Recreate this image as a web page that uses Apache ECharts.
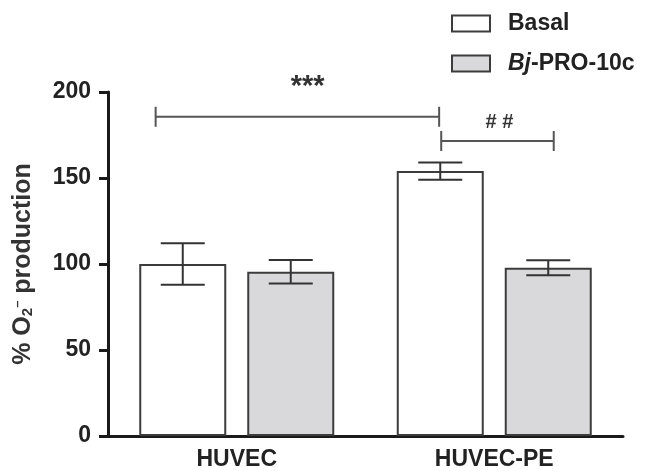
<!DOCTYPE html>
<html>
<head>
<meta charset="utf-8">
<script src="https://cdn.jsdelivr.net/npm/echarts@6/dist/echarts.min.js"></script>
<style>html,body{margin:0;padding:0;background:#fff}#c{width:645px;height:471px}</style>
</head>
<body>
<div id="c"></div>
<script>
// ---- data ----
var categories = ['HUVEC', 'HUVEC-PE'];
var seriesNames = ['Basal', 'Bj-PRO-10c'];
var basalMean = [100, 154];
var basalErr = [12, 5];
var bjMean = [95.5, 97.8];
var bjErr = [6.8, 4.4];
var yTicks = [0, 50, 100, 150, 200];
// significance brackets (x in category units on a 0..2 scale, y in data units)
var bracketStart = [0.185, 1.294];
var bracketEnd = [1.286, 1.731];
var bracketY = [185.6, 171.5];
var bracketLabel = ['***', '# #'];
var bracketLabelX = [0.775, 1.52];
var bracketLabelY = [203, 182.5];

// ---- styles ----
var BAR_W = 87, BAR_GAP_PX = 21, CAP_W = 44;
var font = 'Liberation Sans, Arial, Helvetica, sans-serif';

function errData(means, errs) {
  return means.map(function (m, i) { return [i, m, errs[i]]; });
}
function errRender(sign) {
  return function (params, api) {
    var i = api.value(0), m = api.value(1), e = api.value(2);
    var off = sign * (BAR_W + BAR_GAP_PX) / 2;
    var top = api.coord([i, m + e]);
    var bot = api.coord([i, m - e]);
    var x = top[0] + off;
    var st = { stroke: '#333', lineWidth: 2 };
    return { type: 'group', children: [
      { type: 'line', shape: { x1: x, y1: top[1], x2: x, y2: bot[1] }, style: st },
      { type: 'line', shape: { x1: x - CAP_W / 2, y1: top[1], x2: x + CAP_W / 2, y2: top[1] }, style: st },
      { type: 'line', shape: { x1: x - CAP_W / 2, y1: bot[1], x2: x + CAP_W / 2, y2: bot[1] }, style: st }
    ]};
  };
}
var bracketData = bracketStart.map(function (s, i) {
  return [s, bracketEnd[i], bracketY[i], bracketLabelX[i], bracketLabelY[i], i];
});

var chart = echarts.init(document.getElementById('c'), null, { renderer: 'canvas' });
chart.setOption({
  animation: false,
  backgroundColor: '#fff',
  textStyle: { fontFamily: font },
  grid: { left: 102, right: 22, top: 92, bottom: 35, containLabel: false },
  legend: {
    data: seriesNames,
    orient: 'vertical',
    left: 446,
    top: 7,
    itemWidth: 38,
    itemHeight: 16,
    itemGap: 17,
    icon: 'rect',
    itemStyle: { borderWidth: 2, borderColor: '#3c3c3c' },
    formatter: function (n) {
      if (n === 'Bj-PRO-10c') return '{i|Bj}{b|-PRO-10c}';
      return '{b|' + n + '}';
    },
    textStyle: {
      padding: [0, 0, 0, 13],
      rich: {
        b: { fontSize: 23, fontWeight: 'bold', color: '#222', fontFamily: font, lineHeight: 26 },
        i: { fontSize: 23, fontWeight: 'bold', fontStyle: 'italic', color: '#222', fontFamily: font, lineHeight: 26 }
      }
    }
  },
  xAxis: [{
    type: 'category',
    data: categories,
    axisLine: { show: true, lineStyle: { color: '#1a1a1a', width: 3 } },
    axisTick: { show: false },
    axisLabel: { fontSize: 23, fontWeight: 'bold', color: '#222', margin: 12, fontFamily: font },
    splitLine: { show: false }
  }, {
    type: 'value', min: 0, max: 2, show: false
  }],
  yAxis: [{
    type: 'value',
    min: yTicks[0],
    max: yTicks[yTicks.length - 1],
    interval: yTicks[1] - yTicks[0],
    axisLine: { show: true, lineStyle: { color: '#1a1a1a', width: 3 } },
    axisTick: { show: true, length: 9, lineStyle: { color: '#1a1a1a', width: 3 } },
    axisLabel: { fontSize: 23, fontWeight: 'bold', color: '#222', margin: 17, fontFamily: font },
    splitLine: { show: false },
    name: '{a|% O}{sub|2}{sup|\u2013}{a| production}',
    nameLocation: 'middle',
    nameGap: 70,
    nameRotate: 90,
    nameTextStyle: {
      rich: {
        a: { fontSize: 25, color: '#333', fontFamily: font, lineHeight: 30, fontWeight: 'bold' },
        sub: { fontSize: 15, color: '#333', fontFamily: font, lineHeight: 15, verticalAlign: 'bottom', fontWeight: 'bold', padding: [0, 0, 3, 0] },
        sup: { fontSize: 13, color: '#333', fontFamily: font, lineHeight: 13, verticalAlign: 'top', fontWeight: 'bold', padding: [3, 0, 0, 0] }
      }
    }
  }],
  series: [{
    type: 'bar',
    name: seriesNames[0],
    data: basalMean,
    barWidth: BAR_W,
    barGap: (BAR_GAP_PX / BAR_W * 100) + '%',
    itemStyle: { color: '#ffffff', borderColor: '#3c3c3c', borderWidth: 2 }
  }, {
    type: 'bar',
    name: seriesNames[1],
    data: bjMean,
    barWidth: BAR_W,
    barGap: (BAR_GAP_PX / BAR_W * 100) + '%',
    itemStyle: { color: '#d9d9db', borderColor: '#3c3c3c', borderWidth: 2 }
  }, {
    type: 'custom',
    name: 'errBasal',
    data: errData(basalMean, basalErr),
    encode: { x: 0, y: 1 },
    renderItem: errRender(-1),
    z: 5,
    silent: true
  }, {
    type: 'custom',
    name: 'errBj',
    data: errData(bjMean, bjErr),
    encode: { x: 0, y: 1 },
    renderItem: errRender(1),
    z: 5,
    silent: true
  }, {
    type: 'custom',
    name: 'sig',
    xAxisIndex: 1,
    yAxisIndex: 0,
    clip: false,
    data: bracketData,
    encode: { x: 0, y: 2 },
    renderItem: function (params, api) {
      var a = api.coord([api.value(0), api.value(2)]);
      var b = api.coord([api.value(1), api.value(2)]);
      var l = api.coord([api.value(3), api.value(4)]);
      var idx = api.value(5);
      var st = { stroke: '#555', lineWidth: 2 };
      var big = bracketLabel[idx] === '***';
      return { type: 'group', children: [
        { type: 'line', shape: { x1: a[0], y1: a[1], x2: b[0], y2: b[1] }, style: st },
        { type: 'line', shape: { x1: a[0], y1: a[1] - 10, x2: a[0], y2: a[1] + 10 }, style: st },
        { type: 'line', shape: { x1: b[0], y1: b[1] - 10, x2: b[0], y2: b[1] + 10 }, style: st },
        { type: 'text', x: l[0], y: l[1], style: {
          text: bracketLabel[idx], fill: '#333', align: 'center', verticalAlign: 'middle',
          font: 'bold ' + (big ? 29 : 20) + 'px ' + font
        } }
      ]};
    },
    z: 6,
    silent: true
  }]
});
</script>
</body>
</html>
